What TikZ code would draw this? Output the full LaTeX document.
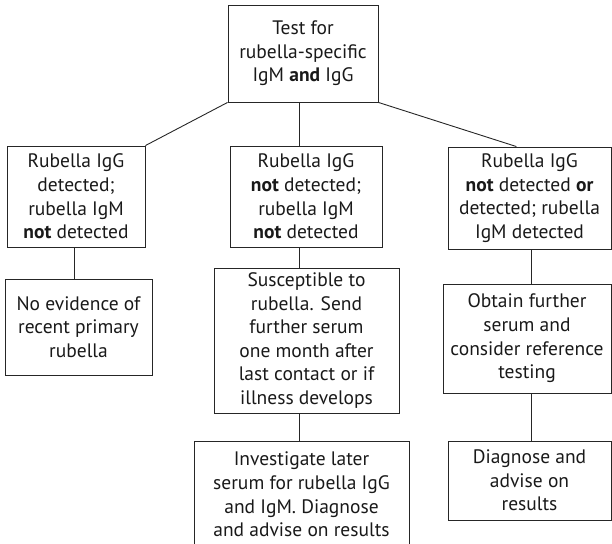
\documentclass[tikz,border=0pt]{standalone}
\usepackage{fontspec}
\setmainfont{PT Sans}
\usetikzlibrary{calc}

\tikzset{
  box/.style={draw=black!85, line width=0.9pt, inner sep=0pt, align=center,
    text=black!90, font=\fontsize{19.5}{23.6}\selectfont},
  link/.style={draw=black!85, line width=0.9pt}
}

\begin{document}
\begin{tikzpicture}[x=1pt,y=-1pt]
\useasboundingbox (0,0) rectangle (612,543);
\clip (0,0) rectangle (612,543);

% top of the tree
\node[box, minimum width=150pt, minimum height=97pt] (test) at (303,53.5)
  {Test for\\rubella-specific\\IgM \textbf{and} IgG};

% first results
\node[box, minimum width=138pt, minimum height=101pt] (pos) at (76,196.5)
  {Rubella IgG\\detected;\\rubella IgM\\\textbf{not} detected};
\node[box, minimum width=152pt, minimum height=101pt] (neg) at (306,196.5)
  {Rubella IgG\\\textbf{not} detected;\\rubella IgM\\\textbf{not} detected};
\node[box, minimum width=163pt, minimum height=102pt] (igm) at (529.5,198)
  {Rubella IgG\\\textbf{not} detected \textbf{or}\\detected; rubella\\IgM detected};

% what to do next
\node[box, minimum width=147pt, minimum height=96pt] (immune) at (78.5,327)
  {No evidence of\\recent primary\\rubella};
\node[box, minimum width=185pt, minimum height=145pt] (suscep) at (306.5,340.5)
  {Susceptible to\\rubella. Send\\further serum\\one month after\\last contact or if\\illness develops};
\node[box, minimum width=215pt, minimum height=107pt] (later) at (301.5,494.5)
  {Investigate later\\serum for rubella IgG\\and IgM. Diagnose\\and advise on results};
\node[box, minimum width=168pt, minimum height=109pt] (further) at (527,338.5)
  {Obtain further\\serum and\\consider reference\\testing};
\node[box, minimum width=163pt, minimum height=79pt] (diag) at (529.5,480.5)
  {Diagnose and\\advise on\\results};

\coordinate (midx) at (299,0);
\coordinate (leftx) at (74,0);
\coordinate (rightx) at (531,0);

\draw[link] (test.south west) -- (pos.north east);
\draw[link] (test.south east) -- ($(igm.north west)!0.42!(igm.north east)$);
\draw[link] (test.south -| midx) -- (neg.north -| midx);

\draw[link] (pos.south -| leftx) -- (immune.north -| leftx);
\draw[link] (neg.south -| midx) -- (suscep.north -| midx);
\draw[link] (suscep.south -| midx) -- (later.north -| midx);
\draw[link] (igm.south -| rightx) -- (further.north -| rightx);
\draw[link] (further.south -| rightx) -- (diag.north -| rightx);
\end{tikzpicture}
\end{document}
